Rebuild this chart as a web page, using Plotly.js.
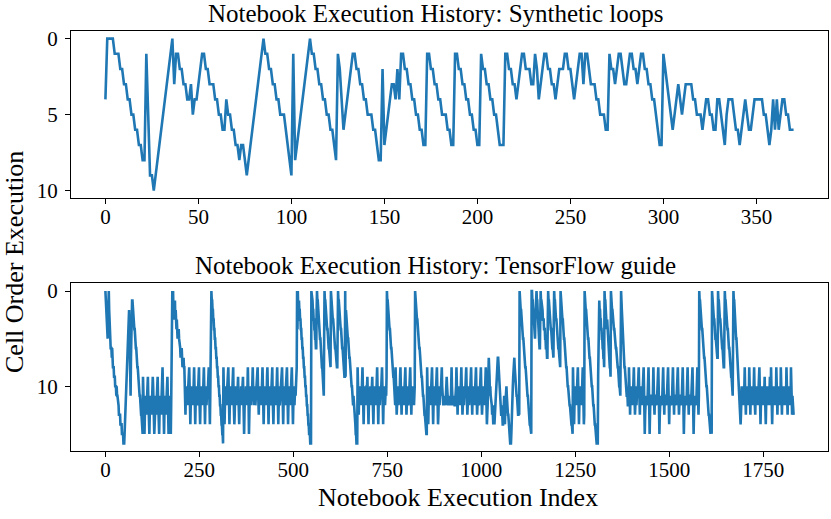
<!DOCTYPE html>
<html>
<head>
<meta charset="utf-8">
<script src="https://cdn.plot.ly/plotly-3.0.1.min.js"></script>
<style>
  html, body { margin: 0; padding: 0; background: #fff; }
  #chart { width: 831px; height: 519px; }
</style>
</head>
<body>
<div id="chart"></div>
<script>
// cell order per execution step
const syntheticOrder = [
  4,0,0,0,0,1,1,1,2,2, 3,3,4,4,5,5,6,6,7,7, 8,8,1,5,9,9,10,9,8,7, 6,5,4,3,2,1,0,3,1,1,
  2,2,3,3,4,4,3,5,4,4, 3,2,1,1,2,2,3,3,3,4,4, 5,5,6,6,4,5,5,6,6,7, 7,8,7,7,8,9,8,7,6,5,
  4,3,2,1,0,1,1,2,2,3, 3,4,4,5,5,5,6,7,8,9,1, 8,7,6,5,4,3,2,1,0,1, 1,2,2,3,3,4,4,5,5,6,
  6,7,8,1,2,4,6,5,4,3, 2,1,1,2,2,3,3,4,4,5, 5,5,6,6,7,8,8,2,7,6,5, 4,3,3,4,2,4,1,1,2,2,
  3,3,4,4,5,5,6,6,7,7, 1,1,2,2,3,3,4,4,5,5,5, 6,6,7,7,1,1,2,2,3,3, 4,4,5,5,6,6,7,7,1,2,
  2,3,3,4,4,5,5,6,7,7, 7,1,1,2,2,3,3,4,3,2, 1,1,2,2,2,3,3,1,2,4,3, 2,1,1,2,2,3,3,4,3,2,
  2,2,1,1,2,2,3,4,3,2, 1,1,3,1,1,2,3,3,3,4, 4,5,5,5,6,6,1,2,2,3,2, 1,1,2,3,3,2,1,1,2,2,
  3,2,1,1,2,2,3,3,4,4, 5,6,7,7,1,2,3,4,5,6, 5,4,3,4,5,4,3,3,3,3,4, 4,5,5,5,6,5,4,4,5,5,
  6,6,4,4,5,6,7,5,4,4, 4,5,6,6,7,6,5,4,5,6, 6,5,4,4,4,4,4,5,5,6,7, 6,4,6,4,6,5,4,4,5,5,
  6,6,6
];

const tfPart1 = [
  0,1,2,3,4,4,5,3,1,0,2,4,5, 5,6,6,6,7,6,7,8,8,8,9,9,9,10,10,10,11,10,11,11,12,11,12,13,13,13,13,14,14,14,14,15,15,15,15,16,16,16,
  15,14,13,12,11,10,9,8,7,6,5,3,2, 4,6,9,11,7,4,2,1,1, 2,2,3,3,4,4,5,5,6,6,7,7,8,8,9,9,10,10,11,11,12,12,13,13,14,14,15,
  9,11,12,13,15,13,11,12,11,13,12,11,10, 9,11,13,14,15,13,11,11,12,11,13,11,10, 9,10,12,13,15,14,12,11,11,12,13,11,10,
  9,11,12,14,15,13,11,12,11,13,12,11,10, 8,10,11,13,15,13,11,12,11,12,13,11,10, 9,11,13,15,13,11,12,13,14,15,
  12,6,1, 0,1,0,2,1,2,3,1,3,2,3,4,3,4,5,4,5,4,5,6,5,6,7,6,7,6,7,8,7,8,7,8,
  8,10,12,13,11,10,11,10,12,11,10,11,9, 8,10,12,14,12,10,11,10,12,11,10,11,9, 8,10,12,14,12,11,10,11,12,10,11,10,9,
  8,11,13,14,12,10,11,12,10,11,12,10,9, 8,10,12,14,12,11,10,12,11,10,11,10,9, 8,10,12,14,11,
  0,9,0,1,1,2,2,3,3,4,4,5,5,6,6,7,7,8,8,9,9,10,10,11,11,12,12,13,13,14,14,15,15,16
];

const tfPart2 = [
  8,10,12,14,12,10,11,10,12,11,10,11,9, 8,10,13,14,12,11,10,11,12,10,11,10,9, 8,11,12,14,13,11,10,12,11,10,11,12,10,
  9,11,13,14,12,11,12,11,10,12,11,10,10, 9,11,13,15,13,11,12,11,10,11,12,11,10, 8,10,12,15,13,11,10,11,12,11,10,11,9,
  8,10,11,12,11,10,11,12,11,10,11,10,9, 8,10,12,13,11,10,11,12,10,11,12,10,9, 8,10,12,14,12,10,11,10,12,11,10,11,9,
  8,10,12,14,12,11,10,11,12,10,11,10,9, 8,11,13,14,12,10,11,12,10,11,12,10,9, 8,10,12,14,12,11,10,12,11,10,11,10,9,
  8,10,12,14,12,10,11,10,12,11,10,11,9, 8,10,13,14,12,11,10,11,12,10,11,10,9, 8,10,12,14,12,11,10,12,11,10,11,10,9, 8,
  0,4,0,2,1,1,2,2,3,3,4,4,5,5,6,6,7,7,8,8,9,9,10,10,11,11,12,12,13,13,14,14,15,15,15,16,16,16
];

const tfPart3 = [
  0,1,0,1,2,2,3,3,4,4,5,5,6,6,2, 0,1,1,2,2,3,3,4,5,5,6,6,7,8,8,9,10,10,11,5,
  0,1,1,2,2,3,3,4,4,5,5,6,6,7,7,8,8, 0,1,1,2,2,3,3,4,4,5,5,6,6,7,7,8,8,8,3,
  0,1,1,2,2,3,3,4,4,5,5,6,6,7,7,8,8,9,9, 0,9,2,3,3,4,4,5,5,6,
  6,7,7,8,8,9,9,10,10,11,11,12,11,12,13,13,14,14,15,15,16,16,16,
  8,10,12,13,11,10,11,12,10,11,12,10,9, 8,10,12,14,12,11,10,11,12,10,11,10,10, 9,11,13,14,12,11,12,11,10,11,12,11,10,
  9,11,13,14,12,10,11,12,10,11,12,10,9, 8,10,12,14,12,11,10,12,11,10,11,10,9, 8,10,12,14,12,11,10,11,12,11,10,11,9,
  0,1,1,2,2,3,3,4,4,5,5,6,6,7,7,8,8,9,9,10,10,11,12,
  8,10,11,13,12,10,11,10,12,11,10,11,9, 8,10,12,13,11,10,11,12,10,11,12,10,9,
  8,10,11,13,12,11,10,11,12,10,11,10,9, 8,10,12,13,11,10,11,12,10,11,12,11,10,
  0,1,1,2,2,3,3,4,4,5,5,6,6,7,7,8,8,9,9,10,10,11,11,12,12,13,13,14,14,15,15,15
];

const tfPart4 = [
  8,10,12,14,12,10,11,12,10,11,12,10,9, 8,10,12,14,12,11,10,11,12,10,11,10,9, 8,10,12,14,13,11,10,12,11,10,11,10,9,
  8,10,11,12,12,11,12,12,11,12,12,11,10, 9,10,11,12,12,11,12,12,12,11,12,12,10, 8,10,11,12,12,11,12,11,12,12,11,12,10,
  8,10,12,13,11,10,11,12,10,11,12,10,9, 8,10,12,13,12,10,11,12,11,10,11,10,9, 8,10,11,13,12,11,10,11,12,10,11,10,9,
  8,10,12,13,11,10,11,12,10,11,12,10,9, 8,10,12,13,12,11,10,11,12,10,11,10,9, 8,10,11,13,12,10,11,12,10,11,12,10,9,
  8,10,12,14,13,12,11,9,
  7,8,9,11,10,11,12,11,12,13,12,13,14,12,13,14, 13,12,11,10,10,9,8,8,7,
  7,8,9,10,11,11,12,12,13,13,12,13,14,14, 13,12,11,13,14,12,11,10,10,
  11,12,12,13,13,14,14,15,15,16,16,16, 15,13,12,11,10,9,8,8,7, 8,9,9,10,10,11,11,12,12,13,13,12,13,
  0,1,1,2,2,3,3,4,4,5,5,6,6,7,7,8,8,9,9,10,10,11,11,12,12,13,13,14,14,15,15,15,
  0,0,1,1,2,2,3,4,5,5,3,2,1, 0,1,1,2,3,3,4,5,6,6,2, 0,1,1,2,2,2,3,3,3,4,4,4,5,5,6,6,6,7,7,3,
  0,1,1,2,2,3,3,4,4,5,5,6,6,7,7,3, 0,1,1,2,2,3,3,4,4,5,5,6,6,7,7,8,8, 0,1,1,2,2,3,3,4,4,5,5,6
];

const tfPart5 = [
  6,7,7,8,8,9,9,10,10,11,11,11,12,12,13,13,14,14,14,15,15,
  8,10,12,14,12,11,10,11,12,10,11,10,9, 8,10,12,14,12,10,11,12,10,11,12,10,9, 8,10,12,14,13,
  0,1,1,2,2,3,3,4,4,5,5,6,6,7,7,8,8,9,9,10,10,11,11,12,12,13,13,14,14,15,15,15,16,16,16,16,
  9,3,1,1,2,2,3,3,4,4,5,5,6,6,7,7,8, 0,1,1,2,2,3,4,3,4,5,5,6,6,7,8,8,9,
  0,1,1,2,2,3,3,4,4,4,5,5,5,6,6,7,7,7,8,8,9,9,10,10,11,11,6, 0,1,2,3,3,4,5,6,7,8,
  8,9,9,10,10,11,11,11,12,12,12
];

const tfPart6 = [
  8,10,12,13,11,10,11,12,10,11,12,10,9, 8,10,11,13,12,10,11,12,11,10,11,10,9, 8,10,12,13,11,10,11,12,10,11,12,10,9,
  8,10,12,15,13,11,11,12,11,11,12,11,10, 8,10,12,15,13,11,11,12,11,11,11,12,10, 8,10,12,13,11,11,12,11,11,12,11,11,9,
  8,10,12,15,13,11,11,12,11,11,12,11,10, 8,10,12,13,11,11,12,11,11,12,11,11,9, 8,10,12,14,12,11,11,12,11,11,12,11,10,
  8,10,12,13,11,11,12,11,11,12,11,11,9, 8,10,12,13,12,11,11,12,11,11,12,11,10, 8,10,12,15,13,11,11,12,11,11,12,11,9,
  8,10,12,13,11,11,12,11,11,12,11,11,10, 8,10,12,15,13,11,11,12,11,11,12,11,9, 8,10,12,13,11,
  0,1,1,2,2,3,3,4,4,5,5,6,6,7,7,8,8,9,9,10,10,11,11,12,12,13,13,14,14,15,15,14,15,15,
  0,1,1,2,2,3,3,4,4,5,5,6,6,7,7,7, 0,1,1,2,2,3,3,4,4,5,5,6,6,7,7,8,8,4,
  0,1,1,2,2,3,3,4,4,5,5,6,6,7,7,8,8,9,9,10,10,11,5, 0,1,1,2,3,3,4,5,5,6,7,7,8,9,9,10,11,12,13,14,
  13,11,10,11,12,11,10,11,12,11,8,10,12, 13,11,10,11,12,11,10,12,11,8,10,12,13, 11,10,11,12,11,10,12,11,10,8,10,12,13,
  11,10,11,12,11,10,12,11,10,11,8,10,12, 14,12,11,10,11,12,11,10,11,12,11,9,11, 12,14,12,11,10,11,12,11,10,11,12,11,9,
  11,12,8,10,12,14,12,11,10,11,12,11,10, 11,12,11,8,10,12,13,11,10,11,12,11,10, 11,12,8,10,12,13,11,10,11,12,11,10,11,
  12,11,10,11,8,10,12,13,11,10,11,12,11, 10,11,12,8,10,12,13,11,12,13,13
];

const topTitle = 'Notebook Execution History: Synthetic loops';
const bottomTitle = 'Notebook Execution History: TensorFlow guide';
const yLabel = 'Cell Order Execution';
const xLabel = 'Notebook Execution Index';
const topXTicks = [0, 50, 100, 150, 200, 250, 300, 350];
const bottomXTicks = [0, 250, 500, 750, 1000, 1250, 1500, 1750];
const topYTicks = [0, 5, 10];
const bottomYTicks = [0, 10];

const tfOrder = [].concat(tfPart1, tfPart2, tfPart3, tfPart4, tfPart5, tfPart6);
const indexOf = arr => arr.map((_, i) => i);

const serif = '"Liberation Serif", "Times New Roman", serif';
const blue = '#1f77b4';

// matplotlib style x-limits with 5% padding
const pad = n => [-(n - 1) * 0.05, (n - 1) * 1.05];

const axisBase = {
  showline: true, mirror: true, linecolor: '#000', linewidth: 1,
  ticks: 'outside', ticklen: 5, tickwidth: 1, tickcolor: '#000',
  showgrid: false, zeroline: false,
  tickfont: { family: serif, size: 21, color: '#000' }
};
const xBase = Object.assign({}, axisBase, { ticklabelstandoff: -5 });
const yBase = Object.assign({}, axisBase, { ticklabelstandoff: 3 });

const traces = [
  {
    type: 'scatter', mode: 'lines',
    x: indexOf(syntheticOrder), y: syntheticOrder,
    line: { color: blue, width: 2.6 },
    xaxis: 'x', yaxis: 'y', hoverinfo: 'skip'
  },
  {
    type: 'scatter', mode: 'lines',
    x: indexOf(tfOrder), y: tfOrder,
    line: { color: blue, width: 2.6 },
    xaxis: 'x2', yaxis: 'y2', hoverinfo: 'skip'
  }
];

const topDomain = [0.602, 1];
const bottomDomain = [0, 0.399];

const layout = {
  width: 831, height: 519,
  margin: { l: 71, r: 3, t: 31, b: 68 },
  showlegend: false,
  paper_bgcolor: '#fff', plot_bgcolor: '#fff',
  font: { family: serif, color: '#000' },
  xaxis: Object.assign({}, xBase, { anchor: 'y', domain: [0, 1], range: pad(syntheticOrder.length), tickvals: topXTicks }),
  yaxis: Object.assign({}, yBase, { anchor: 'x', domain: topDomain, range: [10.5, -0.5], tickvals: topYTicks }),
  xaxis2: Object.assign({}, xBase, { anchor: 'y2', domain: [0, 1], range: pad(tfOrder.length), tickvals: bottomXTicks }),
  yaxis2: Object.assign({}, yBase, { anchor: 'x2', domain: bottomDomain, range: [16.8, -0.8], tickvals: bottomYTicks }),
  annotations: [
    { text: topTitle, xref: 'paper', yref: 'paper', x: 0.5, xshift: -14, y: topDomain[1], yanchor: 'bottom', yshift: 2,
      showarrow: false, font: { family: serif, size: 25, color: '#000' } },
    { text: bottomTitle, xref: 'paper', yref: 'paper', x: 0.5, xshift: -14, y: bottomDomain[1], yanchor: 'bottom', yshift: 2,
      showarrow: false, font: { family: serif, size: 25, color: '#000' } },
    { text: yLabel, xref: 'paper', yref: 'paper', x: 0, xanchor: 'center', xshift: -57, y: 0.45, yanchor: 'middle', textangle: -90,
      showarrow: false, font: { family: serif, size: 26, color: '#000' } },
    { text: xLabel, xref: 'paper', yref: 'paper', x: 0.5, xshift: 8, y: 0, yanchor: 'middle', yshift: -46,
      showarrow: false, font: { family: serif, size: 26, color: '#000' } }
  ]
};

Plotly.newPlot('chart', traces, layout, { displayModeBar: false, staticPlot: true });
</script>
</body>
</html>
